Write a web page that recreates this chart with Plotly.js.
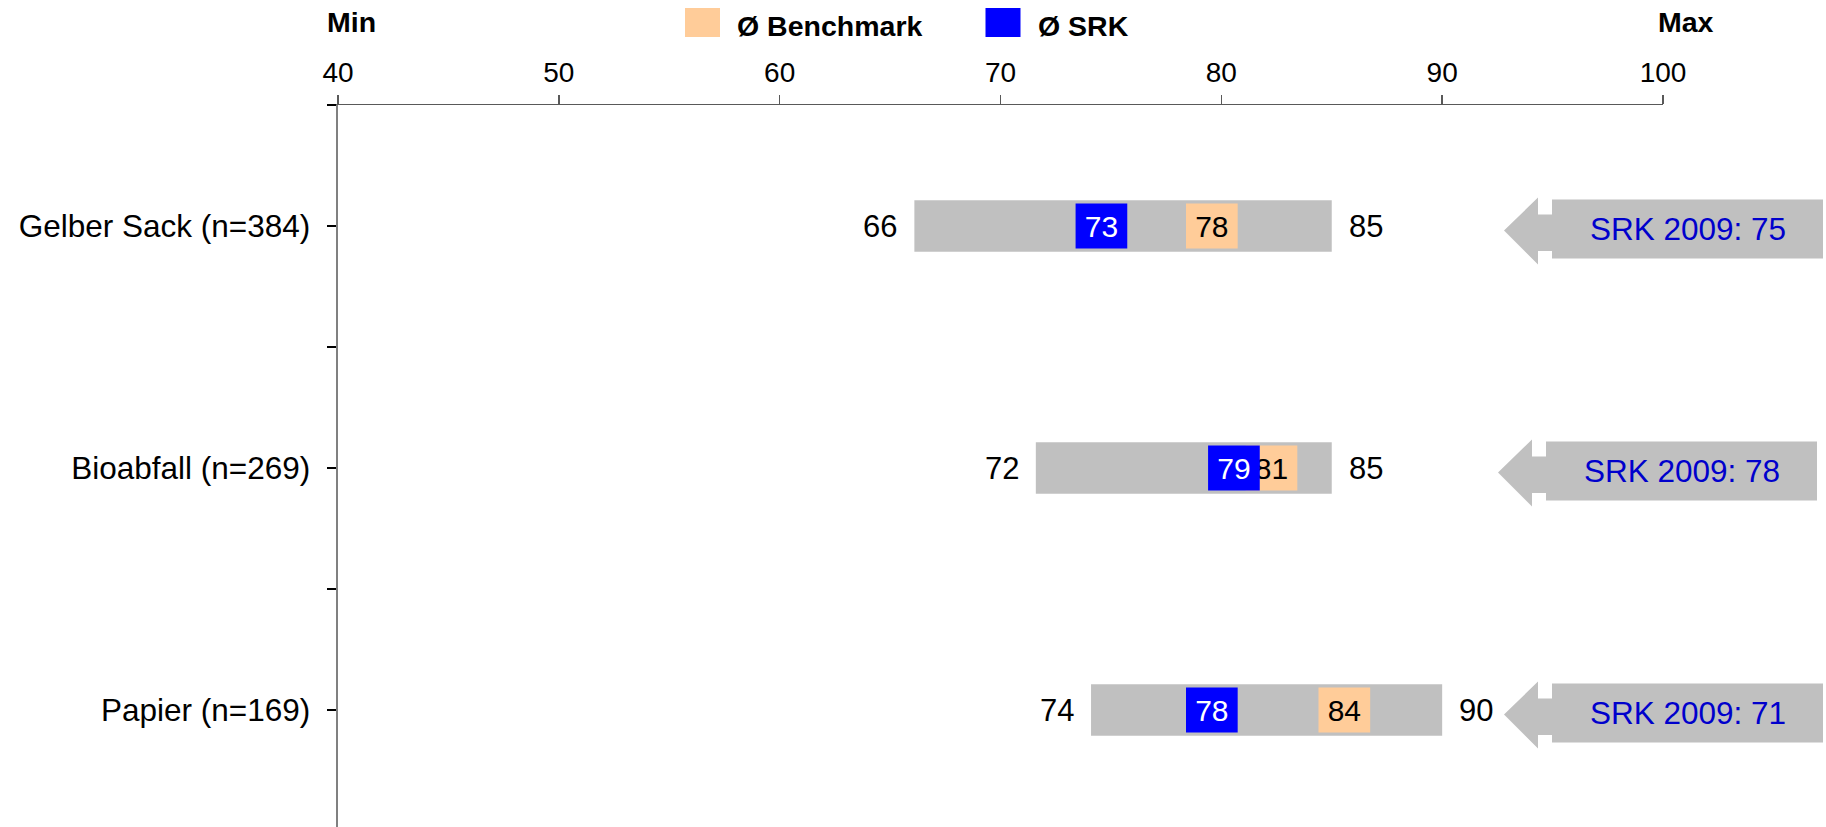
<!DOCTYPE html>
<html>
<head>
<meta charset="utf-8">
<script src="https://cdn.plot.ly/plotly-3.0.1.min.js"></script>
<style>html,body{margin:0;padding:0;background:#fff;}#chart{width:1826px;height:827px;}</style>
</head>
<body>
<div id="chart"></div>
<script>
// ---- data ----
const categories = ['Gelber Sack (n=384)', 'Bioabfall (n=269)', 'Papier (n=169)'];
const minVals = [66.1, 71.6, 74.1];
const maxVals = [85, 85, 90];
const srkVals = [73.4, 79.4, 78.4];
const benchVals = [78.4, 81.1, 84.4];
const srk2009 = [75, 78, 71];
const xTickVals = [40, 50, 60, 70, 80, 90, 100];
const legendNames = ['Ø Benchmark', 'Ø SRK'];
const headerLabels = ['Min', 'Max'];

// ---- layout helpers ----
const W = 1826, H = 827;
const L = 338, R = 1663, T = 105, B = 827;
const px2x = p => (p - L) / (R - L);
const py2y = p => (B - p) / (B - T);
const FONT = 'Liberation Sans, Arial, Helvetica, sans-serif';
const BOX_W = 2.34;
const GRAY = '#C0C0C0', ORANGE = '#FFCC99', BLUE = '#0000FF', TXTBLUE = '#0000CC';
const yIdx = categories.map((c, i) => i);

const traces = [
  {
    type: 'bar', orientation: 'h', y: yIdx,
    base: minVals, x: maxVals.map((m, i) => m - minVals[i]),
    width: 0.2136, marker: {color: GRAY, line: {width: 0}},
    hoverinfo: 'skip', showlegend: false
  },
  {
    type: 'bar', orientation: 'h', y: yIdx, name: legendNames[0],
    base: benchVals, x: benchVals.map(() => BOX_W),
    width: 0.186, marker: {color: ORANGE, line: {width: 0}},
    text: benchVals.map(v => String(Math.round(v))),
    textposition: 'inside', insidetextanchor: 'middle', constraintext: 'none', textangle: 0,
    insidetextfont: {family: FONT, size: 30, color: '#000'},
    hoverinfo: 'skip', showlegend: false
  },
  {
    type: 'bar', orientation: 'h', y: yIdx, name: legendNames[1],
    base: srkVals, x: srkVals.map(() => BOX_W),
    width: 0.186, marker: {color: BLUE, line: {width: 0}},
    text: srkVals.map(v => String(Math.round(v))),
    textposition: 'inside', insidetextanchor: 'middle', constraintext: 'none', textangle: 0,
    insidetextfont: {family: FONT, size: 30, color: '#fff'},
    hoverinfo: 'skip', showlegend: false
  }
];

const annotations = [];
const shapes = [];

// min / max labels
yIdx.forEach(i => {
  annotations.push({xref: 'x', yref: 'y', x: minVals[i], y: i, xanchor: 'right', yanchor: 'middle',
    xshift: -15, text: String(Math.round(minVals[i])), showarrow: false,
    font: {family: FONT, size: 31, color: '#000'}});
  annotations.push({xref: 'x', yref: 'y', x: maxVals[i], y: i, xanchor: 'left', yanchor: 'middle',
    xshift: 15, text: String(Math.round(maxVals[i])), showarrow: false,
    font: {family: FONT, size: 31, color: '#000'}});
});

// SRK 2009 callout arrows
const arrowTipPx = [1504, 1498, 1504];
yIdx.forEach(i => {
  // screen offsets (y down) relative to tip x and category center
  const pts = [[0, 4.5], [34, -28.5], [34, -11.5], [48, -11.5], [48, -26.5], [319, -26.5],
               [319, 32.5], [48, 32.5], [48, 25], [34, 25], [34, 38.5]];
  const path = 'M' + pts.map(p => p[0] + ',' + (-p[1])).join(' L') + ' Z';
  shapes.push({type: 'path', xref: 'paper', yref: 'y', xsizemode: 'pixel', ysizemode: 'pixel',
    xanchor: px2x(arrowTipPx[i]), yanchor: i, path: path,
    fillcolor: GRAY, line: {width: 0}, layer: 'above'});
  annotations.push({xref: 'paper', yref: 'y', x: px2x(arrowTipPx[i] + 183.5), y: i, yshift: -3,
    xanchor: 'center', yanchor: 'middle', text: 'SRK 2009: ' + srk2009[i], showarrow: false,
    font: {family: FONT, size: 31.5, color: TXTBLUE}});
});

// header labels Min / Max
annotations.push({xref: 'paper', yref: 'paper', x: px2x(325), y: py2y(22), xanchor: 'left', yanchor: 'middle',
  text: '<b>' + headerLabels[0] + '</b>', showarrow: false, font: {family: FONT, size: 28.5, color: '#000'}});
annotations.push({xref: 'paper', yref: 'paper', x: px2x(1656), y: py2y(22), xanchor: 'left', yanchor: 'middle',
  text: '<b>' + headerLabels[1] + '</b>', showarrow: false, font: {family: FONT, size: 28.5, color: '#000'}});

// manual legend
const legColors = [ORANGE, BLUE];
const legX = [685, 985.5];
legendNames.forEach((n, k) => {
  shapes.push({type: 'rect', xref: 'paper', yref: 'paper',
    x0: px2x(legX[k]), x1: px2x(legX[k] + 35), y0: py2y(37), y1: py2y(8),
    fillcolor: legColors[k], line: {width: 0}});
  annotations.push({xref: 'paper', yref: 'paper', x: px2x(legX[k] + 50), y: py2y(26), xanchor: 'left', yanchor: 'middle',
    text: '<b>' + n + '</b>', showarrow: false, font: {family: FONT, size: 28.5, color: '#000'}});
});

const layout = {
  width: W, height: H,
  margin: {l: L, r: W - R, t: T, b: H - B, pad: 0},
  paper_bgcolor: '#fff', plot_bgcolor: '#fff',
  barmode: 'overlay', showlegend: false,
  font: {family: FONT, color: '#000'},
  xaxis: {
    side: 'top', range: [40, 100], tickmode: 'array', tickvals: xTickVals,
    ticktext: xTickVals.map(String),
    showline: true, linecolor: '#595959', linewidth: 1.5,
    ticks: 'outside', ticklen: 8.5, tickcolor: '#595959', tickwidth: 1.5,
    showgrid: false, zeroline: false, ticklabelstandoff: 2,
    tickfont: {family: FONT, size: 28, color: '#000'}, fixedrange: true
  },
  yaxis: {
    range: [(B - T) / 242 - 0.5, -0.5], tickmode: 'array',
    tickvals: [-0.5, 0, 0.5, 1, 1.5, 2],
    ticktext: ['', categories[0], '', categories[1], '', categories[2]],
    showline: true, linecolor: '#808080', linewidth: 2,
    ticks: 'outside', ticklen: 9.5, tickcolor: '#000', tickwidth: 1.5,
    showgrid: false, zeroline: false, ticklabelstandoff: 10,
    tickfont: {family: FONT, size: 31.5, color: '#000'}, fixedrange: true
  },
  shapes: shapes,
  annotations: annotations
};

Plotly.newPlot('chart', traces, layout, {displayModeBar: false, staticPlot: true});
</script>
</body>
</html>
